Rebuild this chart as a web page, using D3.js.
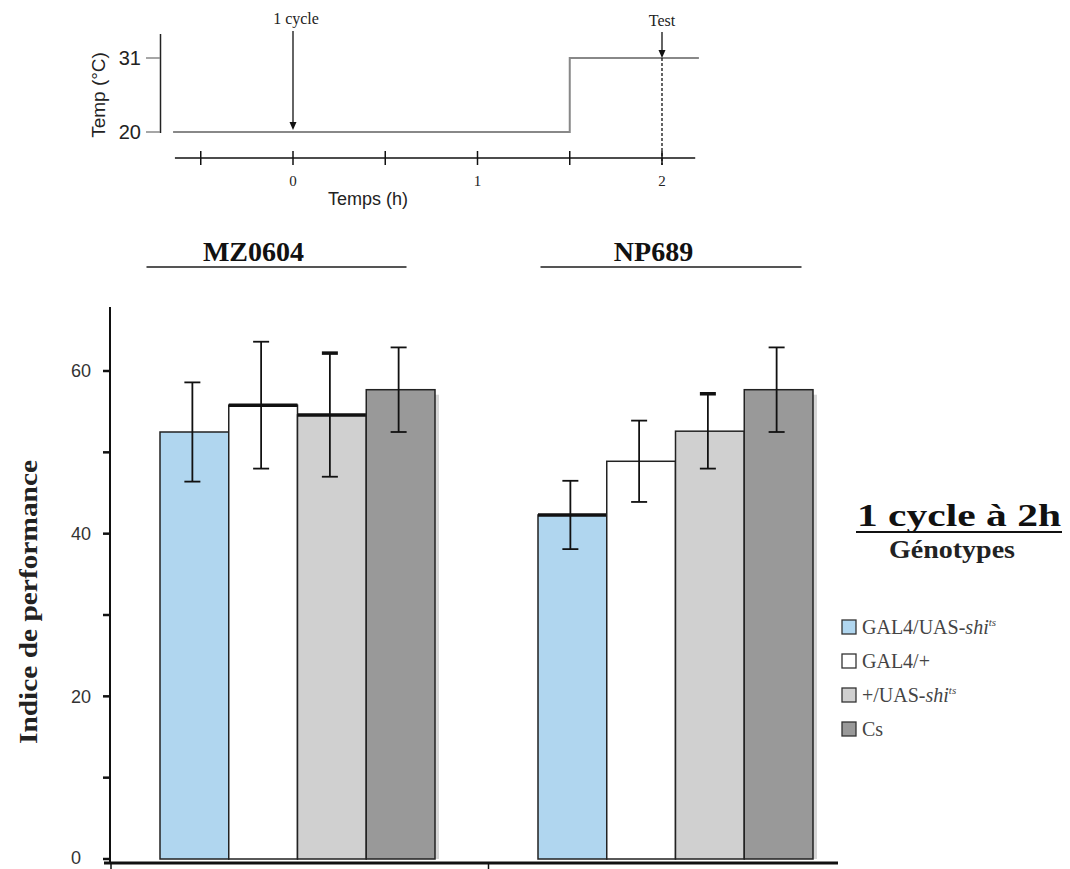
<!DOCTYPE html>
<html><head><meta charset="utf-8">
<script src="https://cdn.jsdelivr.net/npm/d3@7"></script>
<style>body{margin:0;background:#fff}svg{display:block}</style>
</head><body>
<svg id="c" width="1070" height="869"></svg>
<script>
// ---- data ----
const groups = ["MZ0604", "NP689"];
const genotypes = ["GAL4/UAS-shi", "GAL4/+", "+/UAS-shi", "Cs"];
const mzValues = [52.5, 55.8, 54.6, 57.7];
const mzErrors = [6.1, 7.8, 7.6, 5.2];
const npValues = [42.3, 48.9, 52.6, 57.7];
const npErrors = [4.2, 5.0, 4.6, 5.2];
const yTicks = [0, 20, 40, 60];
const yMinorTicks = [10, 30, 50];
const tempTimes = [-0.65, 1.5, 1.5, 2.2];
const tempValues = [20, 20, 31, 31];
const timeTicks = [-0.5, 0, 0.5, 1, 1.5, 2];
const timeTickLabels = [0, 1, 2];
const tempTicks = [20, 31];
const cycleTime = 0, testTime = 2;

const colors = ["#b0d6ef", "#ffffff", "#d0d0d0", "#999999"];
const svg = d3.select("#c");
const serif = "'Liberation Serif','Times New Roman',serif";
const sans = "'Liberation Sans',Arial,sans-serif";

// ---- top protocol chart ----
const xt = d3.scaleLinear().domain([0, 2]).range([293, 662]);
const yt = d3.scaleLinear().domain([20, 31]).range([132, 58]);
const proto = svg.append("g");
proto.append("line").attr("x1", 160.5).attr("x2", 160.5).attr("y1", 34).attr("y2", 133).attr("stroke", "#222").attr("stroke-width", 1.5);
tempTicks.forEach(t => {
  proto.append("line").attr("x1", 146).attr("x2", 160).attr("y1", yt(t)).attr("y2", yt(t)).attr("stroke", "#888").attr("stroke-width", 1.5);
  proto.append("text").attr("x", 141).attr("y", yt(t)).attr("dy", "0.36em").attr("text-anchor", "end")
    .attr("font-family", sans).attr("font-size", 20).attr("fill", "#222").text(t);
});
proto.append("text").attr("transform", "translate(105,95) rotate(-90)").attr("text-anchor", "middle")
  .attr("font-family", sans).attr("font-size", 19).attr("fill", "#222").text("Temp (°C)");
proto.append("path").datum(tempTimes.map((t, i) => [t, tempValues[i]]))
  .attr("d", d3.line().x(d => xt(d[0])).y(d => yt(d[1])))
  .attr("fill", "none").attr("stroke", "#888").attr("stroke-width", 2);
const axY = 158;
proto.append("line").attr("x1", xt(-0.64)).attr("x2", xt(2.18)).attr("y1", axY).attr("y2", axY).attr("stroke", "#111").attr("stroke-width", 1.5);
timeTicks.forEach(t => {
  proto.append("line").attr("x1", xt(t)).attr("x2", xt(t)).attr("y1", axY - 7).attr("y2", axY + 7).attr("stroke", "#111").attr("stroke-width", 1.5);
});
timeTickLabels.forEach(t => {
  proto.append("text").attr("x", xt(t)).attr("y", 186).attr("text-anchor", "middle")
    .attr("font-family", serif).attr("font-size", 15).attr("fill", "#222").text(t);
});
proto.append("text").attr("x", 368).attr("y", 205).attr("text-anchor", "middle")
  .attr("font-family", sans).attr("font-size", 18).attr("fill", "#222").text("Temps (h)");
function arrow(x, y1, y2) {
  proto.append("line").attr("x1", x).attr("x2", x).attr("y1", y1).attr("y2", y2 - 6).attr("stroke", "#111").attr("stroke-width", 1.3);
  proto.append("path").attr("d", `M${x - 3.5},${y2 - 8}L${x + 3.5},${y2 - 8}L${x},${y2}Z`).attr("fill", "#111");
}
arrow(xt(cycleTime), 31, 130);
proto.append("text").attr("x", xt(cycleTime) + 3).attr("y", 24).attr("text-anchor", "middle")
  .attr("font-family", serif).attr("font-size", 16).attr("fill", "#222").text("1 cycle");
arrow(xt(testTime), 32, yt(31));
proto.append("text").attr("x", xt(testTime)).attr("y", 26).attr("text-anchor", "middle")
  .attr("font-family", serif).attr("font-size", 16).attr("fill", "#222").text("Test");
proto.append("line").attr("x1", xt(testTime)).attr("x2", xt(testTime)).attr("y1", yt(31)).attr("y2", axY + 7)
  .attr("stroke", "#111").attr("stroke-width", 1.3).attr("stroke-dasharray", "3,2");

// ---- main bar chart ----
const y = d3.scaleLinear().domain([0, 60]).range([859, 371]);
const gx = d3.scalePoint().domain(groups).range([297.5, 675.5]);
const bx = d3.scaleBand().domain(genotypes).range([-137.5, 137.5]).padding(0);
const main = svg.append("g");
const data = [
  {g: groups[0], v: mzValues, e: mzErrors, lx: -44, l1: -151, l2: 109},
  {g: groups[1], v: npValues, e: npErrors, lx: -22, l1: -135, l2: 126}
];
const thickTop = {"MZ0604": [1, 2], "NP689": [0]};

data.forEach(d => {
  const gg = main.append("g").attr("transform", `translate(${gx(d.g)},0)`);
  genotypes.forEach((gt, i) => {
    const x0 = bx(gt), w = bx.bandwidth();
    if (i === 3) {
      gg.append("rect").attr("x", x0 + 4).attr("y", y(d.v[i]) + 5).attr("width", w).attr("height", y(0) - y(d.v[i]) - 5)
        .attr("fill", "#d6d6d6");
    }
    gg.append("rect").attr("x", x0).attr("y", y(d.v[i])).attr("width", w).attr("height", y(0) - y(d.v[i]))
      .attr("fill", colors[i]).attr("stroke", "#222").attr("stroke-width", 1.5);
    if (thickTop[d.g].includes(i)) {
      gg.append("line").attr("x1", x0).attr("x2", x0 + w).attr("y1", y(d.v[i])).attr("y2", y(d.v[i]))
        .attr("stroke", "#111").attr("stroke-width", 3.5);
    }
  });
  genotypes.forEach((gt, i) => {
    const cx = bx(gt) + bx.bandwidth() / 2 - 2;
    const hi = y(d.v[i] + d.e[i]), lo = y(d.v[i] - d.e[i]);
    gg.append("line").attr("x1", cx).attr("x2", cx).attr("y1", hi).attr("y2", lo).attr("stroke", "#111").attr("stroke-width", 1.8);
    [hi, lo].forEach((yy, k) => {
      gg.append("line").attr("x1", cx - 8).attr("x2", cx + 8).attr("y1", yy).attr("y2", yy)
        .attr("stroke", "#111").attr("stroke-width", (i === 2 && k === 0) ? 3.5 : 1.8);
    });
  });
  main.append("text").attr("x", gx(d.g) + d.lx).attr("y", 261).attr("text-anchor", "middle")
    .attr("font-family", serif).attr("font-weight", "bold").attr("font-size", 28).attr("fill", "#111").text(d.g);
  main.append("line").attr("x1", gx(d.g) + d.l1).attr("x2", gx(d.g) + d.l2).attr("y1", 267).attr("y2", 267)
    .attr("stroke", "#555").attr("stroke-width", 2);
});

// y axis
main.append("line").attr("x1", 110).attr("x2", 110).attr("y1", 307).attr("y2", 864).attr("stroke", "#111").attr("stroke-width", 2);
yTicks.concat(yMinorTicks).forEach(t => {
  main.append("line").attr("x1", 103).attr("x2", 110).attr("y1", y(t)).attr("y2", y(t)).attr("stroke", "#111").attr("stroke-width", 2.5);
});
yTicks.forEach(t => {
  main.append("text").attr("x", t === 0 ? 81 : 91).attr("y", y(t) - (t === 0 ? 1 : 0)).attr("dy", "0.36em").attr("text-anchor", "end")
    .attr("font-family", sans).attr("font-size", 18).attr("fill", "#333").text(t);
});
main.append("text").attr("transform", "translate(28,602) rotate(-90)").attr("dy", "0.35em").attr("text-anchor", "middle")
  .attr("font-family", serif).attr("font-weight", "bold").attr("font-size", 26).attr("fill", "#222")
  .attr("textLength", 284).attr("lengthAdjust", "spacingAndGlyphs").text("Indice de performance");
main.append("line").attr("x1", 104).attr("x2", 838).attr("y1", 863).attr("y2", 863).attr("stroke", "#111").attr("stroke-width", 3);
main.append("line").attr("x1", 488.5).attr("x2", 488.5).attr("y1", 863).attr("y2", 869).attr("stroke", "#111").attr("stroke-width", 1.5);
main.append("line").attr("x1", 111).attr("x2", 111).attr("y1", 863).attr("y2", 869).attr("stroke", "#111").attr("stroke-width", 1.5);

// right title + legend
main.append("text").attr("x", 857).attr("y", 526)
  .attr("font-family", serif).attr("font-weight", "bold").attr("font-size", 31).attr("fill", "#111")
  .attr("textLength", 204).attr("lengthAdjust", "spacingAndGlyphs").text("1 cycle à 2h");
main.append("line").attr("x1", 856).attr("x2", 1062).attr("y1", 532).attr("y2", 532).attr("stroke", "#111").attr("stroke-width", 2);
main.append("text").attr("x", 889).attr("y", 558)
  .attr("font-family", serif).attr("font-weight", "bold").attr("font-size", 26).attr("fill", "#222")
  .attr("textLength", 126).attr("lengthAdjust", "spacingAndGlyphs").text("Génotypes");
const leg = main.append("g");
genotypes.forEach((gt, i) => {
  const ly = 627 + i * 34;
  leg.append("rect").attr("x", 842).attr("y", ly - 7).attr("width", 14).attr("height", 14)
    .attr("fill", colors[i]).attr("stroke", "#333").attr("stroke-width", 1.3);
  const t = leg.append("text").attr("x", 862).attr("y", ly).attr("dy", "0.36em")
    .attr("font-family", serif).attr("font-size", 20).attr("fill", "#444");
  if (gt.endsWith("shi")) {
    t.append("tspan").text(gt.slice(0, -3));
    t.append("tspan").attr("font-style", "italic").text("shi");
    t.append("tspan").attr("font-style", "italic").attr("font-size", 11).attr("dy", "-0.75em").text("ts");
  } else {
    t.text(gt);
  }
});
</script>
</body></html>
